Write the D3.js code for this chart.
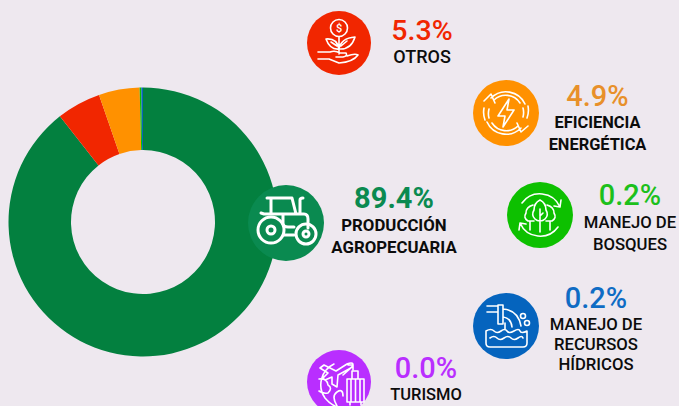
<!DOCTYPE html>
<html><head><meta charset="utf-8">
<script src="https://cdn.jsdelivr.net/npm/d3@7"></script>
<style>html,body{margin:0;padding:0;background:#eee8ef;overflow:hidden}svg{display:block}text{font-family:Roboto,sans-serif}</style>
</head><body><svg id="c" width="679" height="406"></svg>
<script>
const categories=["PRODUCCIÓN AGROPECUARIA","OTROS","EFICIENCIA ENERGÉTICA","MANEJO DE BOSQUES","MANEJO DE RECURSOS HÍDRICOS","TURISMO"];
const values=[89.4,5.3,4.9,0.2,0.2,0.0];
const valueLabels=["89.4%","5.3%","4.9%","0.2%","0.2%","0.0%"];
const colors=["#03803f","#f12600","#ff9100","#0dc000","#0564be","#b92eff"];
const iconColors=["#0a8a50","#f12600","#ff9100","#0dc000","#0564be","#b92eff"];
const pctColors=["#0a8a50","#f12600","#e8902a","#1cc01c","#0f6cc4","#b92eff"];
const labelLines=[["PRODUCCIÓN","AGROPECUARIA"],["OTROS"],["EFICIENCIA","ENERGÉTICA"],["MANEJO DE","BOSQUES"],["MANEJO DE","RECURSOS","HÍDRICOS"],["TURISMO"]];
const iconCx=[286,339,506,540,506,339], iconCy=[223,43,113,215,326,382], iconR=[38,32,33,33,33,32];
const textCx=[394,422,597.5,630,596,426], pctY=[208,40,106,205,308,378], lineY0=[231,63,128,228,330,400], lineH=[22,21,22,22,20,21];
const pctSize=[29,28.5,29,29,29,29], labelSize=[16.8,18,16.4,16.7,16.7,16.5], labelWeight=[700,500,700,500,500,500];

const svg=d3.select("#c");
const pie=d3.pie().sort(null).value(d=>d)(values);
const arc=d3.arc().innerRadius(72).outerRadius(134.5);
svg.append("g").attr("transform","translate(143,222)").selectAll("path").data(pie).join("path")
  .attr("d",arc).attr("fill",(d,i)=>colors[i]);

const icons=[
 // tractor
 g=>{g.attr("transform","translate(0,-3)");g.append("path").attr("d","M-19 -22H6L10 -6M-15 -22V-7M-25 -7L-22 -6H18Q22 -6 22 -1V8M-3 -6V3Q-3 7 2 7H8M14 -6V-20Q14 -22 17 -22M-2 15H8");
  g.append("circle").attr("r",13).attr("cx",-15).attr("cy",10);g.append("circle").attr("r",4).attr("cx",-15).attr("cy",10);
  g.append("circle").attr("r",10).attr("cx",20).attr("cy",14);g.append("circle").attr("r",3).attr("cx",20).attr("cy",14);},
 // plant in hand
 g=>{g.append("circle").attr("r",8.5).attr("cy",-15);
  g.append("path").attr("d","M0 -6V11M0 6Q-2 -5 -13 -4Q-9 7 0 6M0 6Q2 -5 16 -6Q12 7 0 6M-8 -1L-2 3M8 -2L2 3M-21 9H-9Q-4 7 1 10H7Q9 13 4 14H-3M-21 16H-10L0 20Q14 19 19 12Q16 10 8 13");
  g.append("text").attr("y",-11).attr("text-anchor","middle").attr("font-size",11).attr("font-weight",500).attr("fill","#fff").attr("stroke","none").text("$");},
 // energy
 g=>{g.append("path").attr("d","M-15 -15A21 21 0 0 1 19 -9M15 15A21 21 0 0 1 -19 9M-12 -13A17 17 0 0 1 14 -10M12 13A17 17 0 0 1 -14 10M-22 -5A22 22 0 0 0 -21 7M-17 -4A17 17 0 0 0 -17 5M22 -7A22 22 0 0 1 21 5M17 -5A17 17 0 0 1 17 4M-22 -12L-15 -19L-11 -10M22 13L15 19L11 10M3 -14L-8 3H-1L-3 14L8 -3H1Z");},
 // forest
 g=>{g.append("path").attr("d","M-18 -12A22 22 0 0 1 20 -8M18 12A22 22 0 0 1 -20 8M14 -9L20 -8L21 -15M-14 9L-20 8L-21 15M0 -15Q6 -12 6 -5Q9 0 5 4Q3 6 0 6Q-3 6 -5 4Q-9 0 -6 -5Q-6 -12 0 -15ZM0 -6V17M0 1L3 -2M-7 -10Q-14 -8 -14 -2Q-17 3 -12 6H-6M7 -10Q14 -8 14 -2Q17 3 12 6H6M-10 6V15M10 6V15");},
 // water
 g=>{g.append("path").attr("d","M-19 -20H-8M-19 -14H-8M-8 -21H-3V-2H-8ZM-3 -17Q12 -16 15 0M-3 -9Q5 -8 6 1M-1 -3V3M-20 5Q-15 2 -12 5T-5 5T1 5T8 5T14 5T21 5V17Q21 21 17 21H-16Q-20 21 -20 17ZM-16 12Q-12 9 -9 12T-2 12T5 12T12 12T17 12");
  g.append("circle").attr("r",2.5).attr("cx",17).attr("cy",-10);g.append("circle").attr("r",2.5).attr("cx",21).attr("cy",-3);},
 // travel
 g=>{g.append("path").attr("d","M-5 -18A23 23 0 0 0 -14 16Q-9 22 -4 24M-20 -3Q-12 -4 -11 3Q-6 6 -11 11Q-16 12 -20 9M-2 24Q-8 14 -2 10Q4 6 4 14M-15 -17L-3 -11L8 -18Q13 -20 14 -18Q14 -15 10 -13L-1 -7L-2 5L-7 2L-7 -5L-14 -2L-16 -4L-11 -9L-19 -14ZM4 -7L13 -15M9 -17H14V-12");
  g.append("path").attr("d","M8 -3H25V20H8ZM12 -3V20M16.5 -3V20M21 -3V20M13 -3V-11H19V-3M11 20V23M22 20V23");}
];

iconCx.forEach((cx,i)=>{
  const g=svg.append("g").attr("transform",`translate(${cx},${iconCy[i]})`);
  g.append("circle").attr("r",iconR[i]).attr("fill",iconColors[i]);
  const ig=g.append("g").attr("fill","none").attr("stroke","#fff").attr("stroke-width",i===0?3:1.6).attr("stroke-linecap","round").attr("stroke-linejoin","round");
  icons[i](ig);
  svg.append("text").attr("x",textCx[i]).attr("y",pctY[i]).attr("text-anchor","middle")
    .attr("font-size",pctSize[i]).attr("font-weight",i===0?700:500).attr("fill",pctColors[i]).text(valueLabels[i]);
  labelLines[i].forEach((t,k)=>svg.append("text").attr("x",textCx[i]).attr("y",lineY0[i]+k*lineH[i])
    .attr("text-anchor","middle").attr("font-size",labelSize[i]).attr("font-weight",labelWeight[i]).attr("fill","#0c0c0c").text(t));
});
</script></body></html>
